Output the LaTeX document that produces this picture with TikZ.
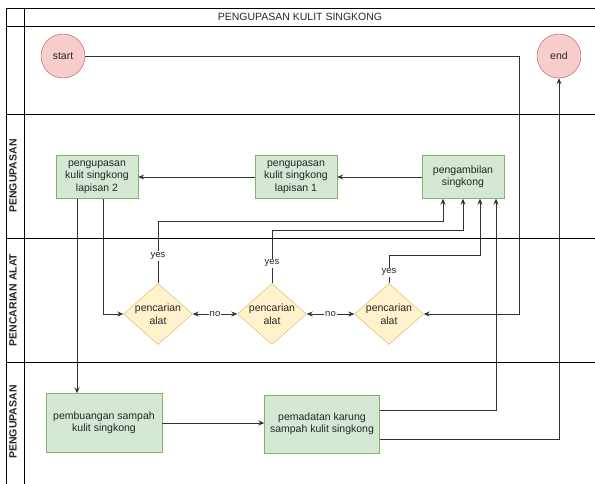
\documentclass[tikz,border=0pt]{standalone}
\usepackage{fontspec}
\setmainfont{Liberation Sans}
\usetikzlibrary{shapes.geometric,arrows.meta}

\definecolor{hijau}{HTML}{D5E8D4}
\definecolor{hijaugaris}{HTML}{82B366}
\definecolor{kuning}{HTML}{FFF2CC}
\definecolor{kuninggaris}{HTML}{D6B656}
\definecolor{merah}{HTML}{F8CECC}
\definecolor{merahgaris}{HTML}{B85450}

\tikzset{
    proses/.style={draw=hijaugaris, fill=hijau, align=center, inner sep=2pt},
    pilihan/.style={diamond, draw=kuninggaris, fill=kuning, align=center, inner sep=0pt, aspect=1.13},
    ujung/.style={circle, draw=merahgaris, fill=merah, minimum size=44pt, inner sep=0pt},
    garis/.style={draw=black!80, line width=0.9pt},
    ket/.style={fill=white, inner sep=1pt, font=\fontsize{9.5}{11}\selectfont},
    lajur/.style={rotate=90, font=\bfseries\fontsize{10.5}{12}\selectfont}
}

\begin{document}
\begin{tikzpicture}[x=1pt, y=-1pt, font=\fontsize{10.5}{12.5}\selectfont, text=black!85,
        >={Stealth[length=6pt,width=5pt]}]
                \useasboundingbox (0,0) rectangle (595,484);
                % lajur
                \draw[line width=0.8pt] (6,484) -- (6,8) -- (595,8);
                \draw[line width=0.8pt] (24,8) -- (24,484);
                \foreach \y in {26,114,238,362} \draw[line width=0.8pt] (6,\y) -- (595,\y);
                \node (judul) at (300,17) {PENGUPASAN KULIT SINGKONG};
                \node[lajur] (lajur1) at (13,176) {PENGUPASAN};
                \node[lajur] (lajur2) at (13,300) {PENCARIAN ALAT};
                \node[lajur] (lajur3) at (13,422) {PENGUPASAN};
                % simpul
                \node[ujung] (mulai) at (63,56) {start};
                \node[ujung] (selesai) at (559,56) {end};
                \node[proses, minimum width=82pt, minimum height=43pt] (kupas2) at (97,177) {pengupasan\\kulit singkong\\lapisan 2};
                \node[proses, minimum width=82pt, minimum height=43pt] (kupas1) at (296,177) {pengupasan\\kulit singkong\\lapisan 1};
                \node[proses, minimum width=82pt, minimum height=43pt] (ambil) at (463,177) {pengambilan\\singkong};
                \node[pilihan] (cari1) at (158,314) {pencarian\\alat};
                \node[pilihan] (cari2) at (272,314) {pencarian\\alat};
                \node[pilihan] (cari3) at (389,314) {pencarian\\alat};
                \node[proses, minimum width=116pt, minimum height=59pt] (buang) at (104,423) {pembuangan sampah\\kulit singkong};
                \node[proses, minimum width=115pt, minimum height=58pt] (padat) at (322,424) {pemadatan karung\\sampah kulit singkong};
                % panah
                \draw[garis,->] (mulai.east) -- (519,56) |- (cari3.east);
                \draw[garis,->] (ambil) -- (kupas1);
                \draw[garis,->] (kupas1) -- (kupas2);
                \draw[garis,->] ([xshift=-20pt]kupas2.south) -- ([xshift=-27pt]buang.north);
                \draw[garis,->] ([xshift=6pt]kupas2.south) |- (cari1.west);
                \draw[garis,->] (cari1.north) -- node[ket,pos=0.44] {yes} ++(0,-62) -| ([xshift=-20pt]ambil.south);
                \draw[garis,->] (cari2.north) -- node[ket,pos=0.38] {yes} ++(0,-53) -| (ambil.south);
                \draw[garis,->] (cari3.north) -- node[ket,pos=0.39] {yes} ++(0,-28) -| ([xshift=17pt]ambil.south);
                \draw[garis,<->] (cari1) -- node[ket] {no} (cari2);
                \draw[garis,<->] (cari2) -- node[ket] {no} (cari3);
                \draw[garis,->] (buang.east) -- (buang.east -| padat.west);
                \draw[garis,->] ([yshift=14pt]padat.east) -| ([xshift=33pt]ambil.south);
                \draw[garis,->] ([yshift=-15pt]padat.east) -| (selesai.south);
            \end{tikzpicture}
\end{document}
